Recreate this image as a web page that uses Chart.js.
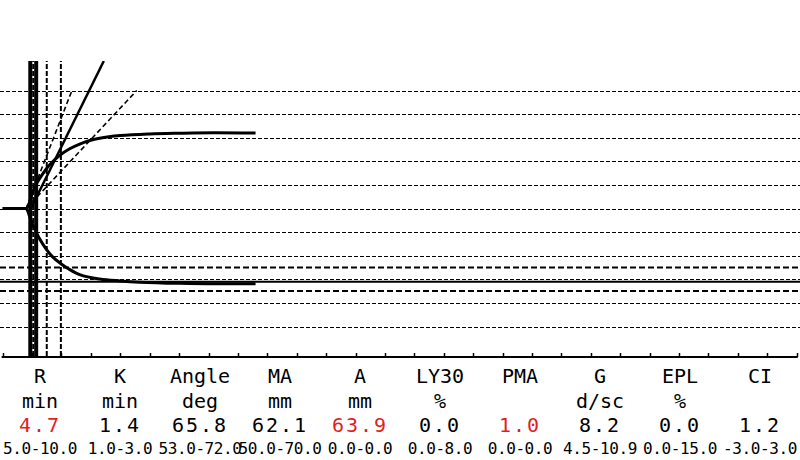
<!DOCTYPE html>
<html><head><meta charset="utf-8">
<script src="https://cdn.jsdelivr.net/npm/chart.js@4/dist/chart.umd.min.js"></script>
<style>
html,body{margin:0;padding:0;background:#fff;}
#wrap{position:relative;width:800px;height:460px;overflow:hidden;background:#fff;}
#c{position:absolute;left:0;top:0;}
.row{position:absolute;left:0;width:800px;height:24px;font-family:"DejaVu Sans Mono",monospace;color:#000;white-space:nowrap;}
.row span{position:absolute;transform:translateX(-50%);}
.r-name{top:366px;font-size:20px;line-height:20px;}
.r-unit{top:391px;font-size:20px;line-height:20px;}
.r-val{top:415px;font-size:20px;line-height:20px;letter-spacing:2px;}
.r-rng{top:441px;font-size:16px;line-height:16px;letter-spacing:-0.4px;}
.red{color:#e41e1e;}
</style>
</head><body>
<div id="wrap">
<canvas id="c" width="800" height="360"></canvas>
<div class="row r-name" id="rowName"></div>
<div class="row r-unit" id="rowUnit"></div>
<div class="row r-val" id="rowVal"></div>
<div class="row r-rng" id="rowRng"></div>
</div>
<script>
// ---- parameters table ----
const paramNames  = ['R','K','Angle','MA','A','LY30','PMA','G','EPL','CI'];
const paramUnits  = ['min','min','deg','mm','mm','%','','d/sc','%',''];
const paramValues = ['4.7','1.4','65.8','62.1','63.9','0.0','1.0','8.2','0.0','1.2'];
const paramRanges = ['5.0-10.0','1.0-3.0','53.0-72.0','50.0-70.0','0.0-0.0','0.0-8.0','0.0-0.0','4.5-10.9','0.0-15.0','-3.0-3.0'];
const paramAbnormal = [true,false,false,false,true,false,true,false,false,false];

// ---- tracing (time in min, amplitude in mm) ----
const upperTime = [0, 4.0, 4.4, 4.8, 5.2, 5.5, 6.0, 6.9, 8.0, 9.7, 11.4, 13.1, 14.8, 16.5, 20, 25, 30, 36, 43];
const upperAmp  = [0, 0,   1.5, 4.5, 7.5, 9.5, 11.5,15,  18.5,22.5,25.3, 27.3, 28.8, 29.8, 30.9,31.6,31.9,32.1,32.0];
const lowerTime = [0, 4.0, 4.4, 4.8, 5.5, 6.2, 7.5,  8.5,  9.9,  11.5, 13.1, 16.5, 20,   23.3, 30,   36,   43];
const lowerAmp  = [0, 0,  -2,  -5,  -9, -12.5,-17.5,-20.5,-23.4,-26,  -28,  -29.9,-30.7,-31.2,-31.7,-31.9,-31.9];

// ---- reference markers ----
const timeTicks = Array.from({length:28},(_,i)=>i*5);          // 0..135 min
const gridAmplitudes = [50,40,30,20,10,0,-10,-20,-30,-40,-50];  // mm
const maNormalLevels = [-25,-35];                               // MA 50-70 half widths
const maLevel = -parseFloat(paramValues[3])/2;                  // MA half width
const solidTimes  = [4.7, 5.7];
const dashedTimes = [5.2, 7.5, 9.9];
const angleLine   = [[4.8,0],[17.2,62.5]];
const angleNormLo = [[4.0,0],[22.8,50]];
const angleNormHi = [[4.0,0],[11.7,49.5]];

const X_MIN=-0.45, X_MAX=135.56, Y_MIN=-62.5, Y_MAX=62.5;

// ---- table ----
function fillRow(id, arr, cls){
  const row=document.getElementById(id);
  arr.forEach((t,i)=>{
    const s=document.createElement('span');
    s.textContent=t;
    s.style.left=(40+80*i)+'px';
    if(cls && cls[i]) s.className='red';
    row.appendChild(s);
  });
}
fillRow('rowName',paramNames);
fillRow('rowUnit',paramUnits);
fillRow('rowVal',paramValues,paramAbnormal);
fillRow('rowRng',paramRanges);

// ---- chart ----
const zip=(xs,ys)=>xs.map((x,i)=>({x:x,y:ys[i]}));
const pts=a=>a.map(p=>({x:p[0],y:p[1]}));
const ds=(data,opt)=>Object.assign({data:data,showLine:true,pointRadius:0,borderColor:'#000',backgroundColor:'#000',borderWidth:2,fill:false},opt||{});

const datasets=[];
solidTimes.forEach(t=>datasets.push(ds([{x:t,y:Y_MIN},{x:t,y:Y_MAX}],{borderWidth:4})));
dashedTimes.forEach(t=>datasets.push(ds([{x:t,y:Y_MIN},{x:t,y:Y_MAX}],{borderWidth:2,borderDash:[5,2]})));
maNormalLevels.forEach(v=>datasets.push(ds([{x:X_MIN,y:v},{x:X_MAX,y:v}],{borderWidth:2,borderDash:[6,3]})));
datasets.push(ds([{x:X_MIN,y:maLevel},{x:X_MAX,y:maLevel}],{borderWidth:2}));
datasets.push(ds(pts(angleNormLo),{borderWidth:1.6,borderDash:[5,3]}));
datasets.push(ds(pts(angleNormHi),{borderWidth:1.6,borderDash:[5,3]}));
datasets.push(ds(pts(angleLine),{borderWidth:2.5}));
datasets.push(ds(zip(upperTime,upperAmp),{borderWidth:3,cubicInterpolationMode:'monotone'}));
datasets.push(ds(zip(lowerTime,lowerAmp),{borderWidth:3,cubicInterpolationMode:'monotone'}));

const tegPlugin={
  id:'tegGrid',
  beforeDatasetsDraw(chart){
    const {ctx,chartArea:a,scales:{y}}=chart;
    ctx.save();
    ctx.strokeStyle='#000';ctx.lineWidth=1.2;ctx.setLineDash([4,2]);
    gridAmplitudes.forEach(v=>{
      const py=Math.round(y.getPixelForValue(v))+0.5;
      ctx.beginPath();ctx.moveTo(a.left,py);ctx.lineTo(a.right,py);ctx.stroke();
    });
    ctx.restore();
  },
  afterDatasetsDraw(chart){
    const {ctx,chartArea:a,scales:{x}}=chart;
    ctx.save();
    ctx.strokeStyle='#000';ctx.setLineDash([]);
    const by=a.bottom+1;
    ctx.lineWidth=2;
    ctx.beginPath();
    ctx.moveTo(x.getPixelForValue(timeTicks[0])-1,by);
    ctx.lineTo(x.getPixelForValue(timeTicks[timeTicks.length-1])+1,by);
    ctx.stroke();
    ctx.lineWidth=1.5;
    timeTicks.forEach(t=>{
      const px=Math.round(x.getPixelForValue(t))+0.5;
      ctx.beginPath();ctx.moveTo(px,by);ctx.lineTo(px,by-4);ctx.stroke();
    });
    ctx.restore();
  }
};

new Chart(document.getElementById('c'),{
  type:'scatter',
  data:{datasets:datasets},
  options:{
    responsive:false,animation:false,devicePixelRatio:1,
    layout:{padding:{top:61,bottom:4,left:0,right:0}},
    plugins:{legend:{display:false},tooltip:{enabled:false}},
    scales:{
      x:{type:'linear',display:false,min:X_MIN,max:X_MAX},
      y:{type:'linear',display:false,min:Y_MIN,max:Y_MAX}
    }
  },
  plugins:[tegPlugin]
});
</script>
</body></html>
